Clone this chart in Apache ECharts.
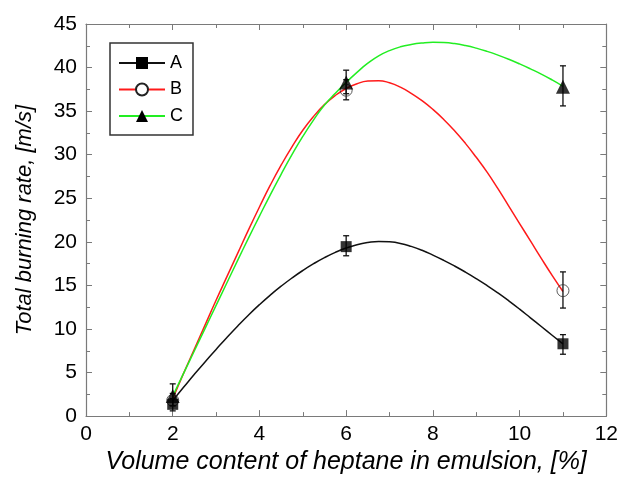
<!DOCTYPE html>
<html>
<head>
<meta charset="utf-8">
<script src="https://cdn.jsdelivr.net/npm/echarts@6/dist/echarts.min.js"></script>
<style>html,body{margin:0;padding:0;background:#fff;}#c{width:621px;height:480px;}</style>
</head>
<body>
<div id="c"></div>
<script>
// Measured points
var pointsA = [[2, 1.35], [6, 19.45], [11, 8.3]];
var pointsB = [[2, 1.8], [6, 37.4], [11, 14.4]];
var pointsC = [[2, 2.3], [6, 38.3], [11, 37.8]];
// Error bars [x, low, high]
var errA = [[2, 0.6, 2.0], [6, 18.4, 20.7], [11, 7.1, 9.35]];
var errB = [[2, 1.2, 2.6], [6, 36.3, 38.6], [11, 12.4, 16.55]];
var errC = [[2, 1.2, 3.7], [6, 37.0, 39.7], [11, 35.6, 40.2]];
// Fitted curves, x step 0.25 from 2 to 11
var curveX = [2, 2.25, 2.5, 2.75, 3, 3.25, 3.5, 3.75, 4, 4.25, 4.5, 4.75, 5, 5.25, 5.5, 5.75, 6, 6.25, 6.5, 6.75, 7, 7.25, 7.5, 7.75, 8, 8.25, 8.5, 8.75, 9, 9.25, 9.5, 9.75, 10, 10.25, 10.5, 10.75, 11];
var curveA = [1.8, 3.3, 4.8, 6.25, 7.65, 9.03, 10.35, 11.61, 12.79, 13.89, 14.91, 15.85, 16.71, 17.49, 18.19, 18.79, 19.29, 19.67, 19.92, 20.05, 20.0, 19.82, 19.48, 19.03, 18.48, 17.88, 17.23, 16.53, 15.78, 14.98, 14.13, 13.23, 12.28, 11.28, 10.28, 9.28, 8.28];
var curveB = [2.0, 4.9, 7.7, 10.5, 13.3, 16.0, 18.7, 21.4, 24.0, 26.5, 28.8, 30.9, 32.8, 34.4, 35.75, 36.8, 37.6, 38.15, 38.45, 38.5, 38.25, 37.75, 37.05, 36.2, 35.2, 34.05, 32.75, 31.3, 29.7, 28.0, 26.1, 24.1, 22.1, 20.1, 18.1, 16.15, 14.3];
var curveC = [2.3, 4.9, 7.5, 10.1, 12.7, 15.3, 17.9, 20.45, 22.95, 25.4, 27.75, 30.0, 32.1, 34.0, 35.7, 37.05, 38.3, 39.45, 40.5, 41.35, 41.95, 42.38, 42.65, 42.82, 42.9, 42.87, 42.75, 42.53, 42.23, 41.86, 41.43, 40.95, 40.42, 39.85, 39.25, 38.58, 37.85];
var names = ['A', 'B', 'C'];
var xTicks = {min: 0, max: 12, interval: 2};
var yTicks = {min: 0, max: 45, interval: 5};

function pair(ys) { return curveX.map(function (x, i) { return [x, ys[i]]; }); }

var FONT = '"Liberation Sans", Arial, sans-serif';
var axisGrey = '#7a7a7a';

function errRender(params, api) {
  var x = api.value(0), lo = api.value(1), hi = api.value(2);
  var p1 = api.coord([x, lo]), p2 = api.coord([x, hi]);
  var w = 3;
  var st = {stroke: '#111', lineWidth: 1.3};
  return {type: 'group', children: [
    {type: 'line', shape: {x1: p1[0], y1: p1[1], x2: p2[0], y2: p2[1]}, style: st},
    {type: 'line', shape: {x1: p1[0] - w, y1: p1[1], x2: p1[0] + w, y2: p1[1]}, style: st},
    {type: 'line', shape: {x1: p2[0] - w, y1: p2[1], x2: p2[0] + w, y2: p2[1]}, style: st}
  ]};
}

var baseAxisX = {
  type: 'value', min: xTicks.min, max: xTicks.max, interval: xTicks.interval,
  axisLine: {show: true, onZero: false, lineStyle: {color: axisGrey, width: 1.2}},
  axisTick: {show: true, inside: true, length: 6, lineStyle: {color: axisGrey}},
  minorTick: {show: true, splitNumber: 2, length: 4, lineStyle: {color: axisGrey}},
  splitLine: {show: false}
};
var baseAxisY = {
  type: 'value', min: yTicks.min, max: yTicks.max, interval: yTicks.interval,
  axisLine: {show: true, onZero: false, lineStyle: {color: axisGrey, width: 1.2}},
  axisTick: {show: true, inside: true, length: 6, lineStyle: {color: axisGrey}},
  minorTick: {show: true, splitNumber: 2, length: 4, lineStyle: {color: axisGrey}},
  splitLine: {show: false}
};

var chart = echarts.init(document.getElementById('c'), null, {renderer: 'canvas'});
var option = {
  animation: false,
  backgroundColor: '#fff',
  grid: {left: 86, right: 12, top: 24, bottom: 58},
  legend: {
    data: names,
    orient: 'vertical', left: 110, top: 43,
    padding: [11, 10, 10, 8],
    itemWidth: 46, itemHeight: 15, itemGap: 8.5,
    borderColor: '#333', borderWidth: 1.5,
    textStyle: {fontFamily: FONT, fontSize: 18, color: '#000'}
  },
  xAxis: [
    Object.assign({}, baseAxisX, {
      position: 'bottom',
      name: 'Volume content of heptane in emulsion, [%]',
      nameLocation: 'middle', nameGap: 33,
      nameTextStyle: {fontFamily: FONT, fontSize: 25, fontStyle: 'italic', color: '#000'},
      axisLabel: {fontFamily: FONT, fontSize: 21, color: '#000', margin: 8}
    }),
    Object.assign({}, baseAxisX, {position: 'top', axisLabel: {show: false}})
  ],
  yAxis: [
    Object.assign({}, baseAxisY, {
      position: 'left',
      name: 'Total burning rate, [m/s]',
      nameLocation: 'middle', nameGap: 50,
      nameTextStyle: {fontFamily: FONT, fontSize: 22, fontStyle: 'italic', color: '#000'},
      axisLabel: {fontFamily: FONT, fontSize: 21, color: '#000', margin: 9}
    }),
    Object.assign({}, baseAxisY, {position: 'right', axisLabel: {show: false}})
  ],
  series: [
    {name: 'A', type: 'line', data: pair(curveA), smooth: 0.5, showSymbol: false, symbol: 'rect',
      lineStyle: {color: '#111', width: 1.5}, itemStyle: {color: '#000'}, z: 2},
    {name: 'B', type: 'line', data: pair(curveB), smooth: 0.5, showSymbol: false, symbol: 'circle',
      lineStyle: {color: '#ff1a1a', width: 1.5}, itemStyle: {color: '#fff', borderColor: '#222', borderWidth: 1}, z: 2},
    {name: 'C', type: 'line', data: pair(curveC), smooth: 0.5, showSymbol: false, symbol: 'triangle',
      lineStyle: {color: '#22ee22', width: 1.5}, itemStyle: {color: '#000'}, z: 2},
    {name: 'eA', type: 'custom', renderItem: errRender, data: errA, z: 3, encode: {x: 0, y: [1, 2]}},
    {name: 'eB', type: 'custom', renderItem: errRender, data: errB, z: 3, encode: {x: 0, y: [1, 2]}},
    {name: 'eC', type: 'custom', renderItem: errRender, data: errC, z: 3, encode: {x: 0, y: [1, 2]}},
    {name: 'mB', type: 'scatter', data: pointsB, symbol: 'circle', symbolSize: 12,
      itemStyle: {color: 'rgba(255,255,255,0)', borderColor: '#333', borderWidth: 1}, z: 4},
    {name: 'mA', type: 'scatter', data: pointsA, symbol: 'rect', symbolSize: 11,
      itemStyle: {color: '#000'}, z: 5},
    {name: 'mC', type: 'scatter', data: pointsC, symbol: 'triangle', symbolSize: 14,
      itemStyle: {color: '#000'}, z: 5}
  ]
};
chart.setOption(option);
</script>
</body>
</html>
